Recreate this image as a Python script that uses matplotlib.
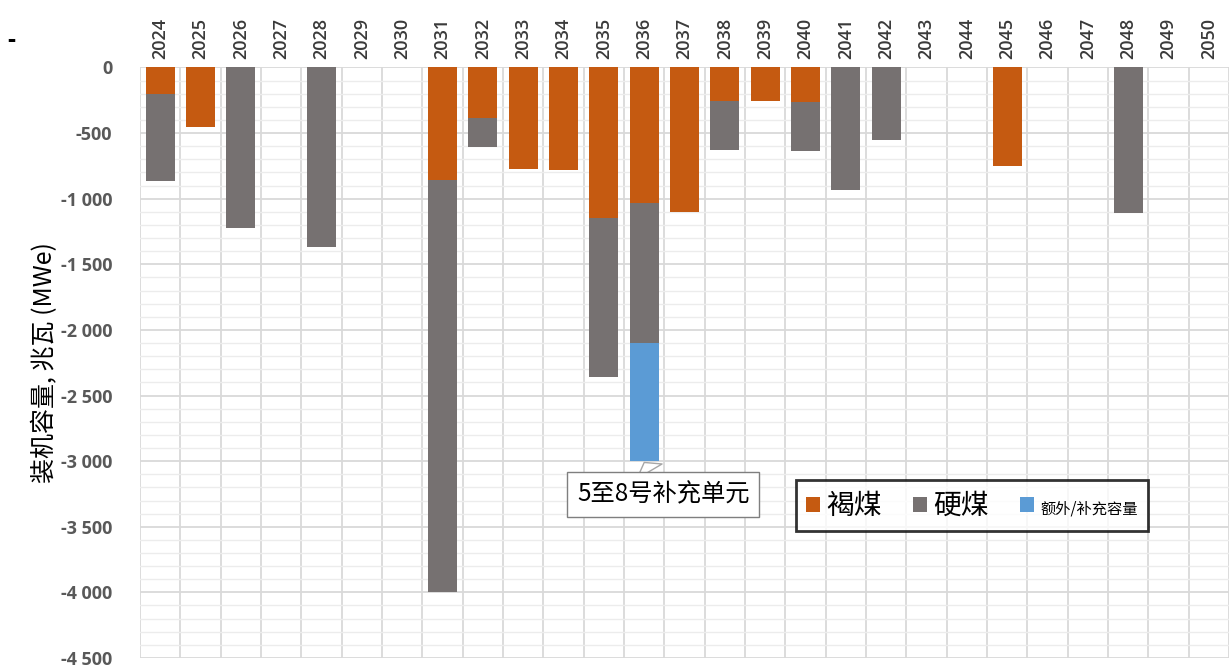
import numpy as np
import matplotlib
matplotlib.use("Agg")
import matplotlib.pyplot as plt
from matplotlib.ticker import FuncFormatter, MultipleLocator, FixedLocator

plt.rcParams["font.family"] = ["Open Sans", "Noto Sans CJK SC", "DejaVu Sans"]

# ── Data (MWe retired per year, shown as negative) ─────────────────────
years = list(range(2024, 2051))
lignite = [200, 450, 0, 0, 0, 0, 0, 860, 385, 775, 780, 1150, 1035, 1105,
           255, 255, 260, 0, 0, 0, 0, 750, 0, 0, 0, 0, 0]
hard_coal = [665, 0, 1220, 0, 1370, 0, 0, 3140, 220, 0, 0, 1205, 1065, 0,
             375, 0, 380, 935, 555, 0, 0, 0, 0, 0, 1110, 0, 0]
extra = [0, 0, 0, 0, 0, 0, 0, 0, 0, 0, 0, 0, 900, 0,
         0, 0, 0, 0, 0, 0, 0, 0, 0, 0, 0, 0, 0]
legend_labels = ["褐煤", "硬煤", "额外/补充容量"]

C_LIGNITE = "#C55A11"
C_HARD = "#767171"
C_EXTRA = "#5B9BD5"
CJK = ["Noto Sans CJK SC", "DejaVu Sans"]

x = np.arange(len(years))
lig = -np.array(lignite, dtype=float)
hard = -np.array(hard_coal, dtype=float)
ext = -np.array(extra, dtype=float)

fig = plt.figure(figsize=(12.29, 6.68), dpi=100)
ax = fig.add_axes([0.114, 0.015, 0.886, 0.884])

w = 0.72
b1 = ax.bar(x, lig, w, color=C_LIGNITE, zorder=3)
b2 = ax.bar(x, hard, w, bottom=lig, color=C_HARD, zorder=3)
b3 = ax.bar(x, ext, w, bottom=lig + hard, color=C_EXTRA, zorder=3)

ax.set_xlim(-0.5, len(years) - 0.5)
ax.set_ylim(-4500, 0)

# x labels on top, rotated
ax.xaxis.tick_top()
ax.set_xticks(x)
ax.set_xticklabels([str(y) for y in years], rotation=90, fontsize=13,
                   color="#3a3a3a", fontweight="semibold")
ax.xaxis.set_minor_locator(FixedLocator(np.arange(-0.5, len(years), 1.0)))

ax.yaxis.set_major_locator(MultipleLocator(500))
ax.yaxis.set_minor_locator(MultipleLocator(100))
ax.yaxis.set_major_formatter(FuncFormatter(lambda v, p: f"{int(v):,}".replace(",", " ")))
for lab in ax.get_yticklabels():
    lab.set_fontsize(13)
    lab.set_color("#595959")
    lab.set_fontweight("bold")

ax.tick_params(which="both", length=0)
ax.tick_params(axis="y", pad=20)
ax.tick_params(axis="x", pad=6)

ax.grid(False)
ax.yaxis.grid(True, which="major", color="#d9d9d9", lw=1.3, zorder=0)
ax.yaxis.grid(True, which="minor", color="#ececec", lw=1.0, zorder=0)
ax.xaxis.grid(True, which="minor", color="#d9d9d9", lw=1.3, zorder=0)
ax.set_axisbelow(True)
for s in ax.spines.values():
    s.set_visible(False)

ax.set_ylabel("装机容量, 兆瓦 (MWe)", fontsize=18, family=CJK, labelpad=2)

# callout for the supplementary units
i36 = years.index(2036)
ax.annotate("5至8号补充单元", xy=(x[i36], lig[i36] + hard[i36] + ext[i36] - 10),
            xytext=(x[i36] + 0.47, -3255), fontsize=17.5, family=CJK,
            ha="center", va="center", zorder=6,
            bbox=dict(boxstyle="square,pad=0.4", fc="white", ec="#7f7f7f", lw=1.0),
            arrowprops=dict(arrowstyle="wedge,tail_width=1.2,shrink_factor=0.5",
                            fc="white", ec="#a6a6a6", lw=1.0, shrinkA=0, shrinkB=0))

leg = ax.legend([b1, b2, b3], legend_labels, loc="center",
                bbox_to_anchor=(0.764, 0.258), ncol=3, frameon=True,
                fancybox=False, handlelength=0.5, handleheight=0.5,
                handletextpad=0.25, columnspacing=1.2, borderpad=0.4,
                prop={"family": CJK, "size": 19})
leg.get_frame().set_edgecolor("black")
leg.get_frame().set_linewidth(2.0)
leg.set_zorder(7)
for t, s in zip(leg.get_texts(), [20, 20, 11]):
    t.set_fontsize(s)

fig.text(0.006, 0.93, "-", fontsize=18, fontweight="bold", color="black")

fig.savefig("out.png", dpi=100)
